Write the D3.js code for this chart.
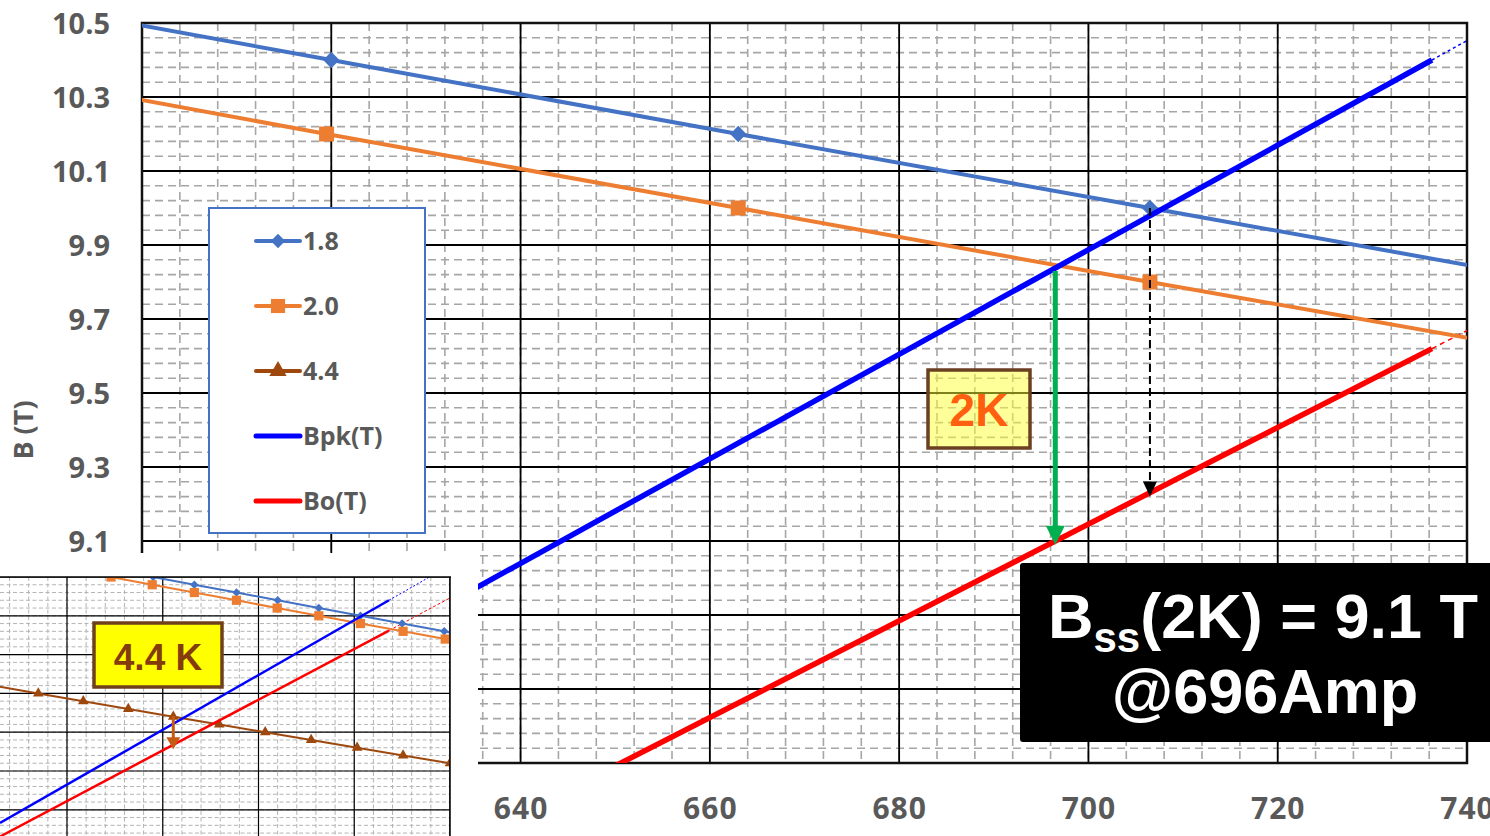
<!DOCTYPE html>
<html>
<head>
<meta charset="utf-8">
<script src="https://cdnjs.cloudflare.com/ajax/libs/d3/7.8.5/d3.min.js"></script>
<style>
body { margin:0; background:#fff; }
svg { display:block; }
.lbl { font-family:"Open Sans", sans-serif; font-weight:700; fill:#595959; }
.ann { font-family:"Liberation Sans", Arial, sans-serif; font-weight:700; }
</style>
</head>
<body>
<div id="chart"></div>
<script>
// values: current (A) and field (T)
var cur18 = [490, 533, 577, 620, 663, 706.5, 750, 794, 838];
var b18   = [11.0, 10.8, 10.6, 10.4, 10.2, 10.0, 9.8, 9.6, 9.4];
var cur20 = [446, 489, 533, 577, 619.5, 663, 706.5, 751, 795, 839];
var b20   = [11.0, 10.8, 10.6, 10.4, 10.2, 10.0, 9.8, 9.6, 9.4, 9.2];
var cur44 = [323, 370, 417, 464, 511, 559, 607, 655, 703, 751, 800];
var b44   = [8.2, 8.0, 7.8, 7.6, 7.4, 7.2, 7.0, 6.8, 6.6, 6.4, 6.2];
var curPk = [330, 736.3], bPk = [4.66, 10.40];
var curPkExt = [736.3, 780], bPkExt = [10.40, 11.02];
var curBo = [330, 736.3], bBo = [4.31, 9.62];
var curBoExt = [736.3, 800], bBoExt = [9.62, 10.46];

var legendNames = ["1.8", "2.0", "4.4", "Bpk(T)", "Bo(T)"];
var xTicks = [640, 660, 680, 700, 720, 740];
var yTicks = [8.5, 8.7, 8.9, 9.1, 9.3, 9.5, 9.7, 9.9, 10.1, 10.3, 10.5];

// arrows: [current, from B, to B]
var arrow2K = [696.5, 9.83, 9.09];
var arrowDash = [706.5, 10.0, 9.22];
var arrow44 = [511, 7.42, 6.56];

var c18 = "#4472C4", c20 = "#ED7D31", c44 = "#9E480E", cPk = "#0000FF", cBo = "#FF0000";
var diamond = d3.symbolDiamond2 || d3.symbolDiamond;

var svg = d3.select("#chart").append("svg")
    .attr("width", 1490).attr("height", 836);
svg.append("rect").attr("width", 1490).attr("height", 836).attr("fill", "#fff");

//helpers
function pairs(cx, cy) { return cx.map(function(c, i) { return [c, cy[i]]; }); }

function grid(g, xs, ys, xv, yv, x0, x1, y0, y1, stroke, w, dash) {
    g.selectAll(null).data(xv).enter().append("line")
        .attr("x1", d => xs(d)).attr("x2", d => xs(d))
        .attr("y1", y0).attr("y2", y1)
        .attr("stroke", stroke).attr("stroke-width", w).attr("stroke-dasharray", dash);
    g.selectAll(null).data(yv).enter().append("line")
        .attr("x1", x0).attr("x2", x1)
        .attr("y1", d => ys(d)).attr("y2", d => ys(d))
        .attr("stroke", stroke).attr("stroke-width", w).attr("stroke-dasharray", dash);
}

function series(g, xs, ys, cx, cy, color, w, sym, size, dash) {
    var pts = pairs(cx, cy);
    g.append("path").datum(pts)
        .attr("d", d3.line().x(d => xs(d[0])).y(d => ys(d[1])))
        .attr("fill", "none").attr("stroke", color).attr("stroke-width", w)
        .attr("stroke-dasharray", dash || null);
    if (sym) {
        g.selectAll(null).data(pts).enter().append("path")
            .attr("transform", d => `translate(${xs(d[0])},${ys(d[1])})`)
            .attr("d", d3.symbol().type(sym).size(size))
            .attr("fill", color);
    }
}

function arrow(g, xs, ys, a, color, w, hw, hl, dash) {
    var tx = xs(a[0]), ty = ys(a[2]);
    g.append("line").attr("x1", tx).attr("x2", tx)
        .attr("y1", ys(a[1])).attr("y2", ty - hl + 1)
        .attr("stroke", color).attr("stroke-width", w)
        .attr("stroke-dasharray", dash || null);
    g.append("path")
        .attr("d", `M${tx - hw / 2},${ty - hl}L${tx + hw / 2},${ty - hl}L${tx},${ty}Z`)
        .attr("fill", color);
}

// ---------- main chart ----------
var x = d3.scaleLinear().domain([600, 740]).range([142, 1467]);
var y = d3.scaleLinear().domain([8.5, 10.5]).range([763, 23]);

svg.append("clipPath").attr("id", "clipMain").append("rect")
    .attr("x", 142).attr("y", 23).attr("width", 1325).attr("height", 740);

var main = svg.append("g");
var minorX = d3.range(0, 36).map(i => 600 + i * 4);
var minorY = d3.range(0, 51).map(i => 8.5 + i * 0.04);
var majorX = d3.range(0, 8).map(i => 600 + i * 20);
grid(main, x, y, minorX, minorY, 142, 1467, 23, 763, "#A6A6A6", 1.6, "8,5");
grid(main, x, y, majorX, yTicks, 142, 1467, 23, 763, "#000", 1.8, null);
main.append("rect").attr("x", 142).attr("y", 23).attr("width", 1325).attr("height", 740)
    .attr("fill", "none").attr("stroke", "#111").attr("stroke-width", 2.5);

var plot = main.append("g").attr("clip-path", "url(#clipMain)");
series(plot, x, y, curPkExt, bPkExt, cPk, 1.5, null, 0, "3,3");
series(plot, x, y, curBoExt, bBoExt, cBo, 1.5, null, 0, "5,4");
series(plot, x, y, cur18, b18, c18, 4, diamond, 170);
series(plot, x, y, cur20, b20, c20, 4, d3.symbolSquare, 225);
series(plot, x, y, cur44, b44, c44, 4, d3.symbolTriangle, 130);
series(plot, x, y, curPk, bPk, cPk, 5.5, null);
series(plot, x, y, curBo, bBo, cBo, 5.5, null);

arrow(plot, x, y, arrowDash, "#000", 2, 14, 15, "8,4");
arrow(plot, x, y, arrow2K, "#00B050", 5, 19, 19);

// axis labels
svg.append("g").attr("transform", "translate(110,0)")
    .call(d3.axisLeft(y).tickValues(yTicks).tickSize(0).tickFormat(d3.format(".1f")))
    .call(g => g.select(".domain").remove())
    .selectAll("text").attr("class", "lbl").attr("font-size", 29).attr("dy", "0.36em").attr("x", 0);

svg.append("g").attr("transform", "translate(0,819)")
    .call(d3.axisBottom(x).tickValues(xTicks).tickSize(0))
    .call(g => g.select(".domain").remove())
    .selectAll("text").attr("class", "lbl").attr("font-size", 30).attr("letter-spacing", 1)
    .attr("y", 0).attr("dy", 0);

svg.append("text").attr("class", "lbl").attr("font-size", 27)
    .attr("text-anchor", "middle")
    .attr("transform", "translate(33,430) rotate(-90)")
    .text("B (T)");

// 2K box
svg.append("rect").attr("x", 928).attr("y", 370).attr("width", 102).attr("height", 78)
    .attr("fill", "#FFFF33").attr("fill-opacity", 0.5)
    .attr("stroke", "#6B3F22").attr("stroke-width", 3.5);
svg.append("text").attr("class", "ann").attr("x", 979).attr("y", 426)
    .attr("text-anchor", "middle").attr("font-size", 46).attr("fill", "#FF5F0F")
    .text("2K");

// legend
var legend = svg.append("g");
legend.append("rect").attr("x", 209).attr("y", 208).attr("width", 216).attr("height", 325)
    .attr("fill", "#fff").attr("stroke", c18).attr("stroke-width", 2);
var legColors = [c18, c20, c44, cPk, cBo];
var legSyms = [diamond, d3.symbolSquare, d3.symbolTriangle, null, null];
var legSizes = [130, 200, 130, 0, 0];
legendNames.forEach(function(name, i) {
    var ly = 241 + i * 65;
    legend.append("line").attr("x1", 256).attr("x2", 300).attr("y1", ly).attr("y2", ly)
        .attr("stroke", legColors[i]).attr("stroke-width", i < 3 ? 4 : 5)
        .attr("stroke-linecap", "round");
    if (legSyms[i]) {
        legend.append("path").attr("transform", `translate(278,${ly})`)
            .attr("d", d3.symbol().type(legSyms[i]).size(legSizes[i]))
            .attr("fill", legColors[i]);
    }
    legend.append("text").attr("class", "lbl").attr("x", 303).attr("y", ly + 9)
        .attr("font-size", 25).text(name);
});

// ---------- inset (4.4 K) ----------
var xi = d3.scaleLinear().domain([400, 800]).range([67, 450]);
var yi = d3.scaleLinear().domain([5, 11]).range([809.8, 577]);

svg.append("rect").attr("x", 0).attr("y", 553).attr("width", 478).attr("height", 283)
    .attr("fill", "#fff");
svg.append("clipPath").attr("id", "clipInset").append("rect")
    .attr("x", 0).attr("y", 577).attr("width", 450).attr("height", 259);

var inset = svg.append("g").attr("clip-path", "url(#clipInset)");
var iMinorX = d3.range(0, 26).map(i => 300 + i * 20);
var iMinorY = d3.range(0, 36).map(i => 4 + i * 0.2);
grid(inset, xi, yi, iMinorX, iMinorY, 0, 450, 577, 836, "#B4B4B4", 1, "4,2.5");
grid(inset, xi, yi, [300, 400, 500, 600, 700, 800], [4, 5, 6, 7, 8, 9, 10, 11], 0, 450, 577, 836, "#000", 1.2, null);

series(inset, xi, yi, curPkExt, bPkExt, cPk, 1, null, 0, "2,2");
series(inset, xi, yi, curBoExt, bBoExt, cBo, 1, null, 0, "3,2");
series(inset, xi, yi, cur18, b18, c18, 2, diamond, 45);
series(inset, xi, yi, cur20, b20, c20, 2, d3.symbolSquare, 85);
series(inset, xi, yi, cur44, b44, c44, 2, d3.symbolTriangle, 50);
series(inset, xi, yi, curPk, bPk, cPk, 2.5, null);
series(inset, xi, yi, curBo, bBo, cBo, 2.5, null);
arrow(inset, xi, yi, arrow44, "#C55A11", 3, 14, 12);

svg.append("line").attr("x1", 0).attr("x2", 451).attr("y1", 577).attr("y2", 577)
    .attr("stroke", "#000").attr("stroke-width", 1.5);
svg.append("line").attr("x1", 450).attr("x2", 450).attr("y1", 577).attr("y2", 836)
    .attr("stroke", "#000").attr("stroke-width", 1.5);

svg.append("rect").attr("x", 94).attr("y", 623).attr("width", 128).attr("height", 64)
    .attr("fill", "#FFFF00").attr("stroke", "#70401C").attr("stroke-width", 3.5);
svg.append("text").attr("class", "ann").attr("x", 158).attr("y", 670)
    .attr("text-anchor", "middle").attr("font-size", 37).attr("fill", "#843C0C")
    .text("4.4 K");

// ---------- result box ----------
svg.append("rect").attr("x", 1020).attr("y", 563).attr("width", 480).attr("height", 179)
    .attr("rx", 3).attr("fill", "#000");
var t1 = svg.append("text").attr("class", "ann").attr("x", 1263).attr("y", 638)
    .attr("text-anchor", "middle").attr("font-size", 63).attr("fill", "#fff");
t1.append("tspan").text("B");
t1.append("tspan").attr("font-size", 42).attr("dy", 14).text("ss");
t1.append("tspan").attr("dy", -14).text("(2K) = 9.1 T");
svg.append("text").attr("class", "ann").attr("x", 1265).attr("y", 713)
    .attr("text-anchor", "middle").attr("font-size", 63).attr("fill", "#fff")
    .text("@696Amp");
</script>
</body>
</html>
